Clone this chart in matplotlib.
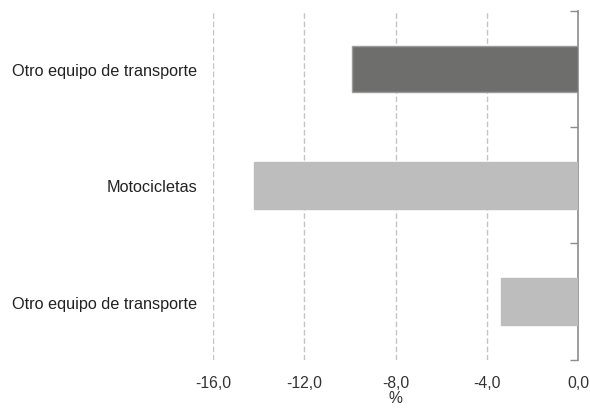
import matplotlib
matplotlib.use("Agg")
import matplotlib.pyplot as plt
from matplotlib.ticker import FuncFormatter, FixedLocator

# data, top to bottom
categories = ["Otro equipo de transporte", "Motocicletas", "Otro equipo de transporte"]
values = [-9.9, -14.2, -3.4]
colors = ["#6e6e6c", "#bdbdbd", "#bdbdbd"]
edges = ["#9c9c9c", "#bdbdbd", "#bdbdbd"]
xticks = [-16, -12, -8, -4, 0]

plt.rcParams["font.family"] = ["Liberation Sans", "DejaVu Sans"]

fig = plt.figure(figsize=(5.9, 4.1), dpi=100)
ax = fig.add_axes([0.361, 0.12, 0.619, 0.851])

pos = list(range(len(categories)))
ax.barh(pos, values, height=0.4, color=colors, edgecolor=edges, linewidth=1, zorder=3)

ax.set_xlim(-16, 0)
ax.set_ylim(len(categories) - 0.5, -0.5)

ax.set_xticks(xticks)
ax.xaxis.set_major_formatter(FuncFormatter(lambda v, p: f"{v:.1f}".replace(".", ",")))
ax.tick_params(axis="x", length=0, pad=11, labelsize=11.3, labelcolor="#333333")
ax.set_xlabel("%", fontsize=11.3, color="#333333", labelpad=0)

ax.set_yticks(pos)
ax.set_yticklabels(categories)
ax.yaxis.set_minor_locator(FixedLocator([p - 0.5 for p in pos] + [pos[-1] + 0.5]))
ax.tick_params(axis="y", which="major", left=False, right=False, length=0, pad=11.5,
               labelsize=11.7, labelcolor="#222222")
ax.tick_params(axis="y", which="minor", left=False, right=True, direction="in",
               length=6, width=1, color="#8c8c8c")

for s in ["left", "top", "bottom"]:
    ax.spines[s].set_visible(False)
ax.spines["right"].set_color("#8c8c8c")
ax.spines["right"].set_linewidth(1.2)

for x in xticks[:-1]:
    ax.axvline(x, color="#c4c4c4", linewidth=1, linestyle=(0, (4, 2)), zorder=1)

fig.savefig("out.png", dpi=100, facecolor="white")
